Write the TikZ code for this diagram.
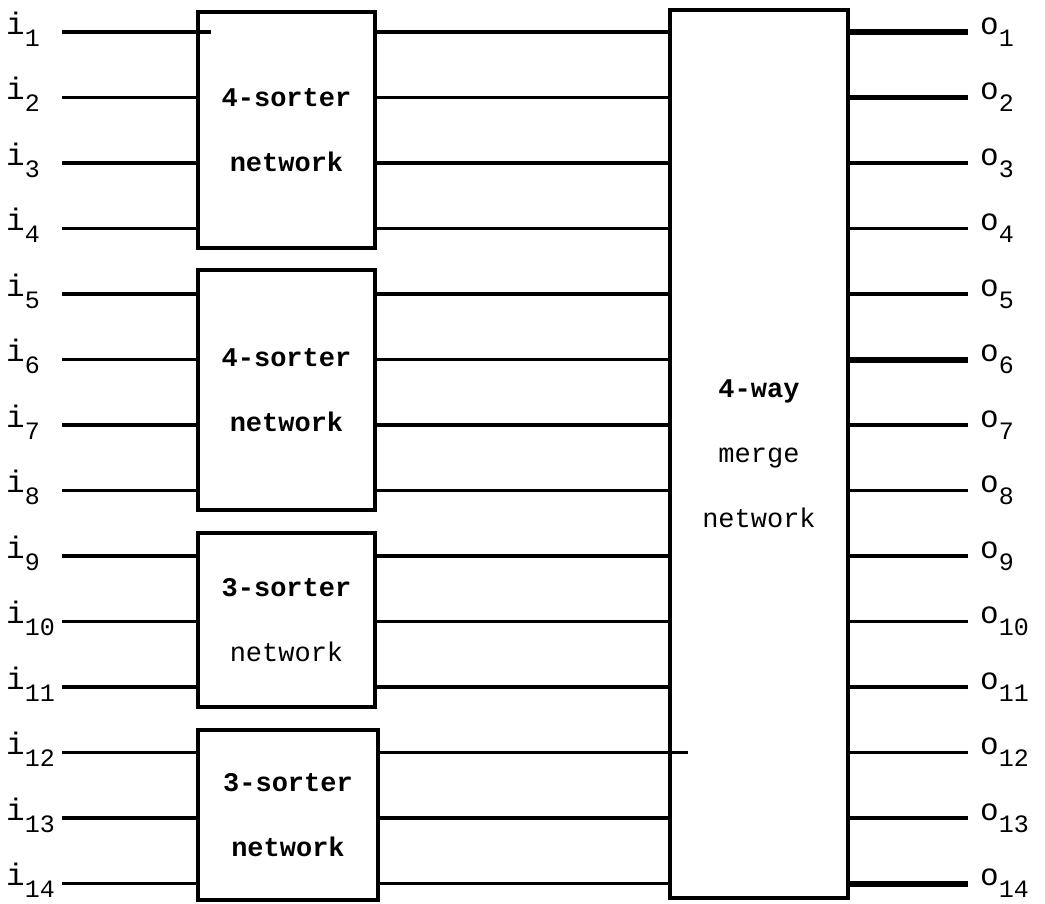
\documentclass[tikz,border=0pt]{standalone}
\usepackage{fontspec}
\setmonofont{Liberation Mono}
\usetikzlibrary{positioning}

\tikzset{
  netbox/.style={draw, line width=3.8pt, minimum width=177pt, inner sep=0pt,
    align=center, font=\ttfamily\fontsize{27}{65}\selectfont},
  wire/.style={line width=3.5pt},
  lab/.style={inner sep=0pt, anchor=base west},
}
\newcommand{\wlab}[2]{\ttfamily\fontsize{31}{31}\selectfont #1\raisebox{-12pt}{\fontsize{25}{25}\selectfont #2}}

\begin{document}
\begin{tikzpicture}[x=1pt, y=-1pt]
\def\rowgap{65.5}
\useasboundingbox (0,0) rectangle (1045,903);
% Sorter boxes
\node[netbox, minimum height=236pt] (sA) at (286.5,130) {\textbf{4-sorter}\\\textbf{network}};
\node[netbox, minimum height=240pt] (sB) at (286.5,390) {\textbf{4-sorter}\\\textbf{network}};
\node[netbox, minimum height=174pt] (sC) at (286.5,620) {\textbf{3-sorter}\\network};
\node[netbox, minimum width=180pt, minimum height=170pt] (sD) at (288,815) {\textbf{3-sorter}\\\textbf{network}};
% Merge box
\node[netbox, minimum width=178pt, minimum height=888pt] (mrg) at (759,454) {\textbf{4-way}\\merge\\network};
% Wires and labels, one row each
\foreach \k/\bx/\lw in {1/sA/5.5, 2/sA/5.5, 3/sA/3.5, 4/sA/3.5, 5/sB/3.5, 6/sB/6,
    7/sB/3.5, 8/sB/3.5, 9/sC/3.5, 10/sC/3.5, 11/sC/3.5, 12/sD/3.5, 13/sD/3.5, 14/sD/6}{
  \pgfmathsetmacro\yy{32+(\k-1)*\rowgap}
  \coordinate (a\k) at (62,\yy);
  \coordinate (b\k) at (968,\yy);
  \node[lab] (i\k) at (6,\yy+2) {\wlab{i}{\k}};
  \node[lab] (o\k) at (980,\yy+2) {\wlab{o}{\k}};
  \draw[wire] (a\k) -- (a\k -| \bx.west);
  \draw[wire] (\bx.east |- a\k) -- (mrg.west |- a\k);
  \draw[wire, line width=\lw pt] (mrg.east |- a\k) -- (b\k);
}
% Overhanging wire ends
\draw[wire] (a1 -| sA.west) -- ++(15,0);
\draw[line width=2.5pt] (mrg.west |- a12) -- ++(20,0);
\end{tikzpicture}
\end{document}
